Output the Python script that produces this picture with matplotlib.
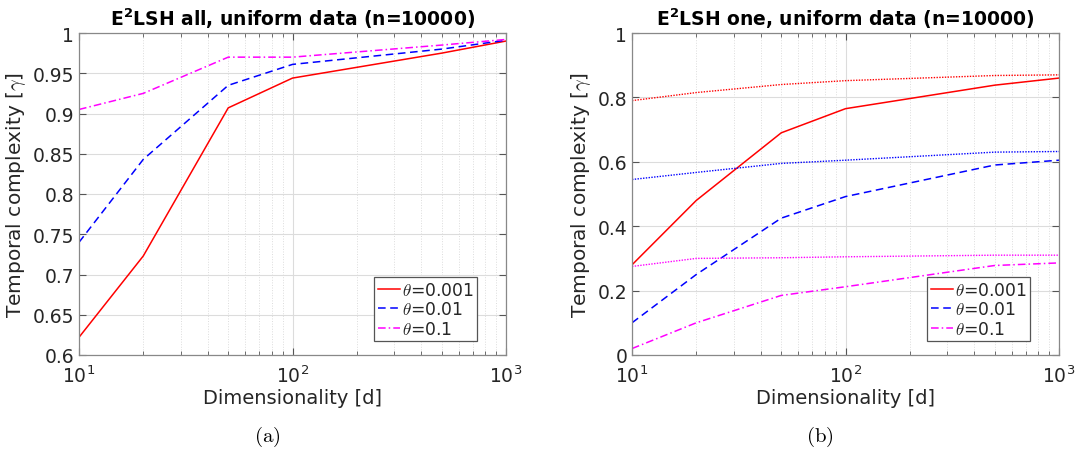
import matplotlib
matplotlib.use("Agg")
import matplotlib.pyplot as plt
from matplotlib.ticker import FormatStrFormatter, LogLocator, NullFormatter
import numpy as np

plt.rcParams['font.family'] = ['DejaVu Sans']
plt.rcParams['mathtext.fontset'] = 'dejavusans'

# ---- data ----
dims = [10, 20, 50, 100, 500, 1000]
labels = [r'$\theta$=0.001', r'$\theta$=0.01', r'$\theta$=0.1']

# panel (a): E2LSH all
a_t001 = [0.622, 0.723, 0.907, 0.944, 0.975, 0.990]
a_t01 = [0.740, 0.843, 0.935, 0.961, 0.980, 0.991]
a_t1 = [0.905, 0.925, 0.970, 0.970, 0.985, 0.992]

# panel (b): E2LSH one (solid/dashed/dashdot) and reference (dotted)
b_t001 = [0.280, 0.480, 0.690, 0.765, 0.838, 0.860]
b_t01 = [0.100, 0.250, 0.425, 0.492, 0.590, 0.605]
b_t1 = [0.020, 0.100, 0.185, 0.212, 0.278, 0.286]
b_ref001 = [0.790, 0.815, 0.840, 0.852, 0.868, 0.870]
b_ref01 = [0.545, 0.567, 0.595, 0.605, 0.630, 0.632]
b_ref1 = [0.275, 0.300, 0.302, 0.305, 0.310, 0.310]

titles = [r'E$^{\mathbf{2}}$LSH all, uniform data (n=10000)',
          r'E$^{\mathbf{2}}$LSH one, uniform data (n=10000)']
captions = [r'$\mathrm{(a)}$', r'$\mathrm{(b)}$']

colors = ['#ff0000', '#0000ff', '#ff00ff']
styles = ['-', (0, (5, 3)), (0, (5, 2, 1, 2))]

fig = plt.figure(figsize=(10.76, 4.52), dpi=100)
W, H = 1076, 452
ax_a = fig.add_axes([79 / W, 1 - 356 / H, 427 / W, 322 / H])
ax_b = fig.add_axes([632 / W, 1 - 356 / H, 427 / W, 322 / H])

tick_color = '#262626'


def style_axes(ax, ylim, yticks):
    ax.set_xscale('log')
    ax.set_xlim(10, 1000)
    ax.set_ylim(*ylim)
    ax.set_yticks(yticks)
    ax.yaxis.set_major_formatter(FormatStrFormatter('%g'))
    ax.xaxis.set_major_locator(LogLocator(base=10, numticks=10))
    ax.xaxis.set_minor_locator(LogLocator(base=10, subs=np.arange(2, 10), numticks=20))
    ax.xaxis.set_minor_formatter(NullFormatter())
    ax.grid(True, which='major', color='#dcdcdc', linewidth=0.8, linestyle='-')
    ax.grid(True, which='minor', axis='x', color='#dcdcdc', linewidth=0.7, linestyle=':')
    ax.set_axisbelow(True)
    ax.tick_params(which='both', direction='in', top=True, right=True,
                   colors='#555555', labelcolor=tick_color, labelsize=13.5)
    ax.tick_params(which='major', length=5, width=0.8)
    ax.tick_params(which='minor', length=3, width=0.6)
    ax.tick_params(axis='x', pad=7)
    for s in ax.spines.values():
        s.set_color('#888888')
        s.set_linewidth(0.9)
    ax.set_xlabel('Dimensionality [d]', fontsize=14, color=tick_color, labelpad=1)
    ax.set_ylabel(r'Temporal complexity [$\gamma$]', fontsize=14.5, color=tick_color,
                  math_fontfamily='cm', labelpad=3)


# panel (a)
for y, c, ls, lab in zip([a_t001, a_t01, a_t1], colors, styles, labels):
    ax_a.plot(dims, y, color=c, linestyle=ls, linewidth=1.1, label=lab)
style_axes(ax_a, (0.6, 1.0), np.arange(0.6, 1.0001, 0.05))

# panel (b)
for y, c, ls, lab in zip([b_t001, b_t01, b_t1], colors, styles, labels):
    ax_b.plot(dims, y, color=c, linestyle=ls, linewidth=1.1, label=lab)
for y, c in zip([b_ref001, b_ref01, b_ref1], colors):
    ax_b.plot(dims, y, color=c, linestyle=(0, (1, 1)), linewidth=1.0)
style_axes(ax_b, (0.0, 1.0), np.arange(0.0, 1.0001, 0.2))

for ax, title, cap in zip([ax_a, ax_b], titles, captions):
    ax.set_title(title, fontsize=13.5, fontweight='bold', pad=6, math_fontfamily='dejavusans')
    leg = ax.legend(loc='lower right', bbox_to_anchor=(1 - 29 / 427, 14 / 322),
                    fontsize=12.3, frameon=True, fancybox=False, handlelength=1.3,
                    handletextpad=0.1, borderaxespad=0.0, borderpad=0.2,
                    labelspacing=0.08, edgecolor='#555555', framealpha=1)
    leg.get_frame().set_linewidth(0.9)
    for t in leg.get_texts():
        t.set_math_fontfamily('cm')
        t.set_color(tick_color)
    pos = ax.get_position()
    fig.text(pos.x0 + pos.width * 0.44, 1 - 437 / H, cap, fontsize=15,
             ha='center', va='center', math_fontfamily='cm')

fig.savefig('out.png', dpi=100)
